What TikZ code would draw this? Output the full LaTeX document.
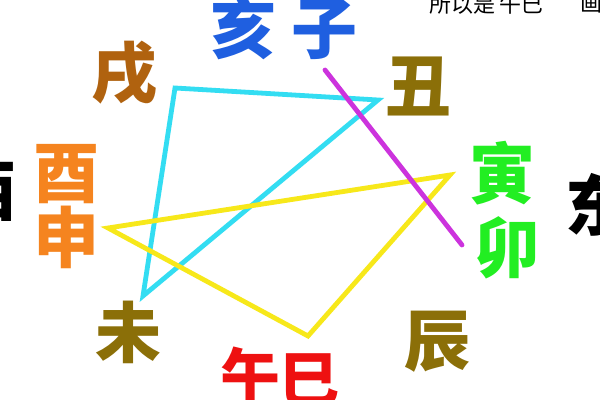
\documentclass[tikz,border=0pt]{standalone}
\usepackage{fontspec}
\usepackage{tikz}
\newfontfamily\cjk{Noto Sans CJK SC}
\definecolor{zblue}{HTML}{1F5FE0}
\definecolor{zolive}{HTML}{8B6F08}
\definecolor{zbrown}{HTML}{B0620F}
\definecolor{zorange}{HTML}{F5841F}
\definecolor{zgreen}{HTML}{22EE22}
\definecolor{zred}{HTML}{EE1111}
\definecolor{zcyan}{HTML}{33DDF2}
\definecolor{zyellow}{HTML}{F7E81A}
\definecolor{zmagenta}{HTML}{CC33DD}

\begin{document}
\begin{tikzpicture}[x=0.5pt,y=-0.5pt,
    zhi/.style={font=\cjk\bfseries\fontsize{33}{33}\selectfont, inner sep=0pt},
    note/.style={font=\cjk\fontsize{11}{11}\selectfont, inner sep=0pt},
    link/.style={line width=2.4pt, line join=miter}]
      \clip (0,0) rectangle (600,400);
      \fill[white] (0,0) rectangle (600,400);

      % Draw the corner points of the lines
      \coordinate (c1) at (175,88);
      \coordinate (c2) at (378,100);
      \coordinate (c3) at (143,296);
      \coordinate (y1) at (108,228);
      \coordinate (y2) at (450,175);
      \coordinate (y3) at (308,336);
      \coordinate (m1) at (325,70);
      \coordinate (m2) at (462,245);

      % Draw the triangles and the line
      \draw[link, zcyan] (c1) -- (c2) -- (c3) -- cycle;
      \draw[link, zyellow] (y1) -- (y2) -- (y3) -- cycle;
      \draw[link, zmagenta, line cap=round] (m1) -- (m2);

      % Draw the branches round the circle
      \node[zhi, text=zblue] (hai) at (243,28) {亥};
      \node[zhi, text=zblue] (zi) at (324,30) {子};
      \node[zhi, text=zolive] (chou) at (418,86) {丑};
      \node[zhi, text=zgreen] (yin) at (502,173) {寅};
      \node[zhi, text=zgreen] (mao) at (507,248) {卯};
      \node[zhi, text=zolive] (chen) at (437,342) {辰};
      \node[zhi, text=zred, font=\cjk\bfseries\fontsize{30}{30}\selectfont] (si) at (309,380) {巳};
      \node[zhi, text=zred, font=\cjk\bfseries\fontsize{30}{30}\selectfont] (wu) at (250,376) {午};
      \node[zhi, text=zolive] (wei) at (128,332) {未};
      \node[zhi, text=zorange] (shen) at (66,237) {申};
      \node[zhi, text=zorange] (you) at (66,174) {酉};
      \node[zhi, text=zbrown] (xu) at (124,73) {戌};

      % Draw the directions at the sides
      \node[zhi] (west) at (-16,192) {西};
      \node[zhi] (east) at (598,205) {东};

      % Draw the cut note at the top
      \node[note] (note1) at (462,4) {所以是};
      \node[note] (note2) at (521,4) {午巳};
      \node[note] (note3) at (591,4) {画};
\end{tikzpicture}
\end{document}
